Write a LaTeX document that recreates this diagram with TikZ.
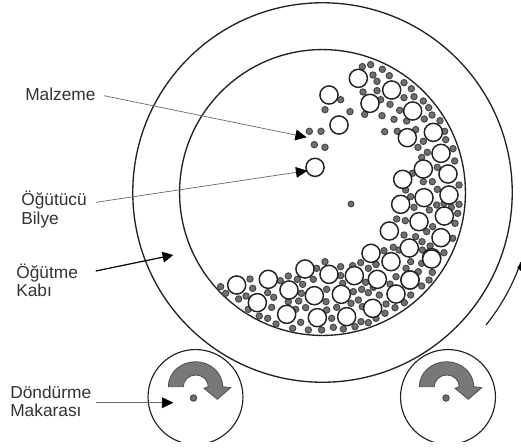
\documentclass[tikz,border=0pt]{standalone}
\usepackage{fontspec}
\setmainfont{Liberation Sans}
\usetikzlibrary{arrows.meta}
\definecolor{ink}{HTML}{222222}
\definecolor{txt}{HTML}{333333}
\definecolor{ballgray}{HTML}{707070}
\definecolor{wedge}{HTML}{787878}
\tikzset{
  vessel/.style={draw=ink,line width=1pt},
  roller/.style={draw=ink,line width=.85pt},
  bigball/.style={draw=ink,line width=1.1pt,fill=white},
  smallball/.style={draw=ink!85,line width=.7pt,fill=ballgray},
  lab/.style={font=\fontsize{13pt}{13.6pt}\selectfont,text=txt,inner sep=0pt,align=left},
  thinarrow/.style={draw=gray!85!black,line width=.55pt,-{Triangle[length=8.5pt,width=8pt,color=black]}},
  boldarrow/.style={draw=black,line width=.9pt,-{Triangle[length=8pt,width=8pt,color=black]}},
  rotwedge/.style={fill=wedge,draw=ink!80,line width=.6pt},
}
\newcommand{\smalls}[3]{\begin{scope}[shift={(#1,#2)},x=.25pt,y=-.25pt]
  \foreach \a/\b in {#3}{\path[smallball] (\a,\b) circle[radius=2.4pt];}
\end{scope}}
\newcommand{\bigs}[3]{\begin{scope}[shift={(#1,#2)},x=.25pt,y=-.25pt]
  \foreach \a/\b in {#3}{\path[bigball] (\a,\b) circle[radius=6.8pt];}
\end{scope}}
\newcommand{\rotarrow}[1]{\begin{scope}[shift={(#1,0)}]
  \path[rotwedge] (168.3,386.7) .. controls (168.3,372.9) and (180.5,361.7) .. (195.5,361.7)
    .. controls (210.5,361.7) and (222.7,372.9) .. (222.7,386.7)
    -- (230.7,387.7) -- (217.3,399.3) -- (204,388.3) -- (208.3,386.7)
    .. controls (208.3,380.2) and (202.7,375) .. (195.8,375)
    .. controls (188.9,375) and (183.3,380.2) .. (183.3,386.7) -- cycle;
\end{scope}}
\begin{document}
\begin{tikzpicture}[x=.75pt,y=-.75pt]
\useasboundingbox (0,0) rectangle (521,447);
\clip (0,0) rectangle (521,447);
% vessel
\coordinate (c) at (322.5,192.5);
\path[vessel] (c) circle[radius=107.2pt];
\path[vessel] (c) circle[radius=142.3pt];
% rollers, open at the bottom edge
\begin{scope}
\clip (0,0) rectangle (521,441.5);
\path[roller] (195.5,397) circle[radius=35.6pt];
\path[roller] (448,397) circle[radius=35.6pt];
\end{scope}
\rotarrow{0}
\rotarrow{251}
\path[smallball] (193.5,398) circle[radius=2.4pt];
\path[smallball] (446,398) circle[radius=2.4pt];
\path[smallball] (351,204) circle[radius=2.2pt];
% motion arc
\draw[ink,line width=.9pt] (486,325) .. controls (501.1,306.2) and (512.9,284.9) .. (520.8,262.1);
\fill[black] (517.3,267.5) -- (522,262) -- (522,272) -- cycle;
% charge: small balls
\smalls{200}{230}{62/170,77/190,150/147,158/175,116/207,138/198,203/188,221/202,145/238,178/258,203/265,215/232,228/282,241/152,265/138,292/148,308/163,304/190,265/215,296/213,287/238,317/233,340/148,350/115,375/95,422/110,422/137,458/107,482/98,505/115,528/103,597/60,497/157,485/178,505/188,520/172,538/195,460/185,428/160,380/178,378/215,380/240,410/232,453/220,475/210,487/230,558/222,585/233,555/250,528/265,505/278,483/275,465/290,430/297,400/292,395/265,365/300,325/300,302/277,278/295}
\smalls{290}{50}{217/50,242/44,277/58,298/77,249/75,261/94,261/122,219/126,272/149,300/163,342/98,364/116,342/143,372/140,400/153,416/173,426/195,403/207,329/181,312/208,276/197,350/213,224/193,152/149,105/179,180/185,284/245,322/244,377/239,450/212,464/244,467/269,400/274,384/292,489/296,58/244,93/244,73/284,105/292}
\smalls{370}{150}{155/22,172/7,254/33,202/52,127/70,160/95,187/95,267/105,107/120,202/118,122/140,132/172,178/180,200/165,222/160,244/172,267/163,263/190,255/220,188/230,170/245,80/207,106/212,102/255,137/260,156/275,180/288,157/300,248/265,222/308,70/292,42/302,18/343,122/335,155/340,108/355,78/380,145/365,187/367,177/390,155/408,60/402}
\smalls{380}{240}{92/165,73/188}
% charge: grinding balls
\bigs{200}{230}{110/165,172/218,205/148,267/180,260/253,315/117,343/197,387/133,424/193,352/263,440/260,463/137,513/70,518/235,588/192}
\bigs{290}{50}{205/85,117/135,240/160,305/120,147/225,368/183,352/263,430/247,75/352}
\bigs{370}{150}{213/10,160/57,234/72,98/88,162/143,237/135,92/163,223/198,147/215,58/243,213/263,118/294,185/323,63/335,120/390,22/388}
\bigs{380}{240}{155/57,90/120}
% labels
\node[lab,anchor=base west] (malzeme) at (25,100.7) {Malzeme};
\node[lab,anchor=west] (bilye) at (21,209.5) {Öğütücü\\Bilye};
\node[lab,anchor=west] (kap) at (16,280) {Öğütme\\Kabı};
\node[lab,anchor=west] (makara) at (10,401) {Döndürme\\Makarası};
% connectors
\coordinate (m0) at (104,95.7);
\coordinate (m1) at (306.7,137.3);
\coordinate (b0) at (96,202.3);
\coordinate (b1) at (307.3,170.7);
\coordinate (k0) at (95.7,271);
\coordinate (k1) at (173.3,255);
\coordinate (d0) at (96,402.7);
\coordinate (d1) at (173.3,402.7);
\draw[thinarrow] (m0) -- (m1);
\draw[thinarrow] (b0) -- (b1);
\draw[boldarrow] (k0) -- (k1);
\draw[thinarrow] (d0) -- (d1);
\end{tikzpicture}
\end{document}
